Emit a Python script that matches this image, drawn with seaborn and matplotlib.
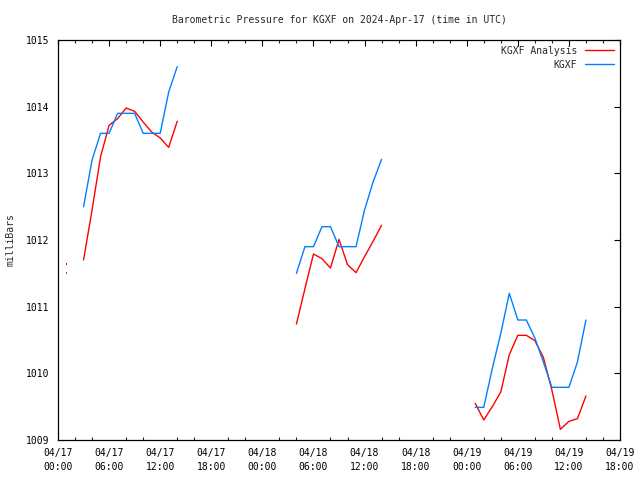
import numpy as np
import pandas as pd
import matplotlib
matplotlib.use("Agg")
import matplotlib.pyplot as plt
import matplotlib.dates as mdates
import seaborn as sns

# ---- data (hours after 2024-04-17 00:00 UTC) ----
start = pd.Timestamp("2024-04-17 00:00")

iso_hours = [1]
iso_analysis = [1011.64]
iso_obs = [1011.50]

seg1_hours = list(range(3, 15))
seg1_analysis = [1011.70, 1012.45, 1013.25, 1013.72, 1013.82, 1013.98, 1013.93,
                 1013.77, 1013.62, 1013.53, 1013.39, 1013.78]
seg1_obs = [1012.5, 1013.2, 1013.6, 1013.6, 1013.9, 1013.9, 1013.9,
            1013.6, 1013.6, 1013.6, 1014.22, 1014.6]

seg2_hours = list(range(28, 39))
seg2_analysis = [1010.74, 1011.27, 1011.79, 1011.72, 1011.58, 1012.01, 1011.63,
                 1011.51, 1011.75, 1011.98, 1012.22]
seg2_obs = [1011.5, 1011.9, 1011.9, 1012.2, 1012.2, 1011.9, 1011.9,
            1011.9, 1012.45, 1012.87, 1013.21]

seg3_hours = list(range(49, 63))
seg3_analysis = [1009.55, 1009.30, 1009.50, 1009.72, 1010.28, 1010.57, 1010.57,
                 1010.49, 1010.24, 1009.75, 1009.16, 1009.28, 1009.32, 1009.66]
seg3_obs = [1009.49, 1009.49, 1010.07, 1010.60, 1011.2, 1010.8, 1010.8,
            1010.53, 1010.17, 1009.79, 1009.79, 1009.79, 1010.17, 1010.8]

title = "Barometric Pressure for KGXF on 2024-Apr-17 (time in UTC)"
ylabel = "milliBars"
label_analysis = "KGXF Analysis"
label_obs = "KGXF"

# ---- build tables ----
rows = []
for seg, (h, a, o) in enumerate([(seg1_hours, seg1_analysis, seg1_obs),
                                 (seg2_hours, seg2_analysis, seg2_obs),
                                 (seg3_hours, seg3_analysis, seg3_obs)]):
    for hh, va, vo in zip(h, a, o):
        t = start + pd.Timedelta(hours=hh)
        rows.append({"time": t, "value": va, "series": label_analysis, "seg": seg})
        rows.append({"time": t, "value": vo, "series": label_obs, "seg": seg})
df = pd.DataFrame(rows)

iso = pd.DataFrame({
    "time": [start + pd.Timedelta(hours=h) for h in iso_hours] * 2,
    "value": iso_analysis + iso_obs,
    "series": [label_analysis] * len(iso_hours) + [label_obs] * len(iso_hours),
})

palette = {label_analysis: "#ff0000", label_obs: "#0080ff"}

sns.set_theme(style="white")
plt.rcParams["font.family"] = ["DejaVu Sans Mono"]
plt.rcParams["font.size"] = 7

fig = plt.figure(figsize=(6.4, 4.8), dpi=100)
ax = fig.add_axes([58 / 640, 40 / 480, (620 - 58) / 640, 400 / 480])

sns.lineplot(data=df, x="time", y="value", hue="series", units="seg",
             estimator=None, palette=palette, linewidth=1.0, ax=ax,
             hue_order=[label_analysis, label_obs])
sns.scatterplot(data=iso, x="time", y="value", hue="series", palette=palette,
                marker="s", s=2, linewidth=0, ax=ax, legend=False)

ax.set_xlim(start, start + pd.Timedelta(hours=66))
ax.set_ylim(1009, 1015)
ax.set_yticks(np.arange(1009, 1016, 1))
ax.yaxis.set_major_formatter(matplotlib.ticker.FormatStrFormatter("%d"))
ax.xaxis.set_major_locator(mdates.HourLocator(byhour=[0, 6, 12, 18]))
ax.xaxis.set_minor_locator(mdates.HourLocator(interval=2))
ax.xaxis.set_major_formatter(mdates.DateFormatter("%m/%d\n%H:%M"))

ax.tick_params(axis="both", which="major", direction="in", length=4, width=0.8,
               top=True, right=True, labelsize=7, pad=6, colors="black")
ax.tick_params(axis="x", which="minor", direction="in", length=2.5, width=0.8,
               top=True, bottom=True)
fig.canvas.draw()
for lab in ax.get_xticklabels():
    lab.set_linespacing(1.45)
for s in ax.spines.values():
    s.set_color("black")
    s.set_linewidth(0.9)

ax.set_xlabel("")
ax.set_ylabel(ylabel, fontsize=7)
ax.yaxis.set_label_coords(-0.076, 0.5)
fig.text(339 / 640, 1 - 20 / 480, title, ha="center", va="center", fontsize=7)

leg = ax.legend(loc="upper right", frameon=False, markerfirst=False,
                handlelength=3.0, fontsize=7, borderaxespad=0.2,
                labelspacing=0.4, handletextpad=0.8)
for t in leg.get_texts():
    t.set_ha("right")

fig.savefig("out.png", dpi=100)
